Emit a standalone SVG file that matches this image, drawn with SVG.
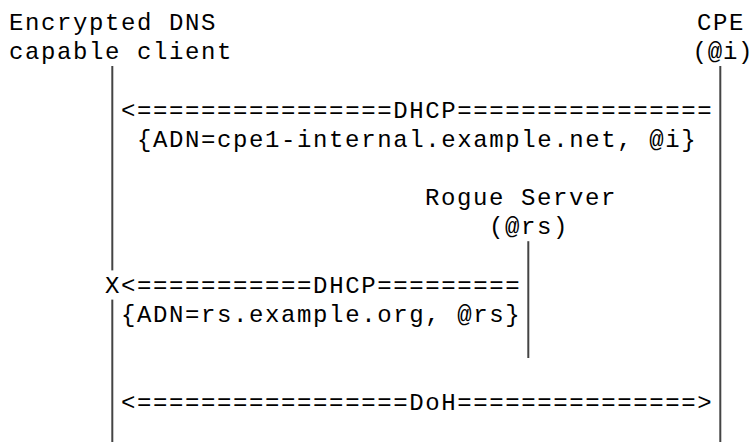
<svg xmlns="http://www.w3.org/2000/svg" width="754" height="442" viewBox="0 0 754 442">
<style>
text { font-family: "Liberation Mono", "DejaVu Sans Mono", monospace; font-size: 24px; letter-spacing: 1.6px; fill: #000; white-space: pre; }
text.tight { letter-spacing: 0.8px; }
.life { stroke: #444; stroke-width: 2; fill: none; }
</style>
<rect width="754" height="442" fill="#fff"/>
<g id="client">
<text x="9.1" y="30">Encrypted DNS</text>
<text x="9.1" y="59.2">capable client</text>
</g>
<g id="cpe">
<text x="697.1" y="30">CPE</text>
<text class="tight" x="692.5" y="59.2">(@i)</text>
</g>
<g id="rogue">
<text x="425.1" y="205.2">Rogue Server</text>
<text x="489.1" y="234.4">(@rs)</text>
</g>
<g id="connectors">
<line class="life" x1="112.3" y1="66" x2="112.3" y2="270.4"/>
<line class="life" x1="112.3" y1="299.6" x2="112.3" y2="442"/>
<line class="life" x1="720.3" y1="66" x2="720.3" y2="442"/>
<line class="life" x1="528.3" y1="241.2" x2="528.3" y2="358"/>
<text x="121.1" y="117.6">&lt;================DHCP================</text>
<text x="137.1" y="146.8">{ADN=cpe1-internal.example.net, @i}</text>
<text x="105.1" y="292.8">X&lt;===========DHCP=========</text>
<text x="121.1" y="322">{ADN=rs.example.org, @rs}</text>
<text x="121.1" y="409.6">&lt;=================DoH===============&gt;</text>
</g>
</svg>
